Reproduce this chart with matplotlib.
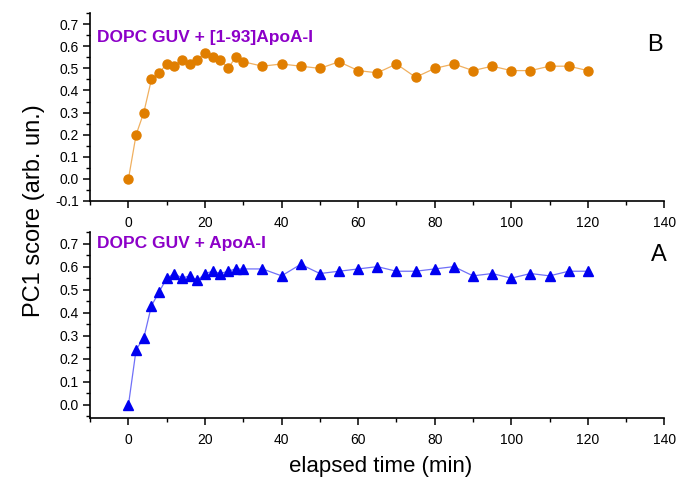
import matplotlib
matplotlib.use("Agg")
import matplotlib.pyplot as plt
from matplotlib.ticker import MultipleLocator

plt.rcParams["font.family"] = ["Liberation Sans", "DejaVu Sans"]

# panel B: DOPC GUV + [1-93]ApoA-I
time_b = [0, 2, 4, 6, 8, 10, 12, 14, 16, 18, 20, 22, 24, 26, 28, 30,
          35, 40, 45, 50, 55, 60, 65, 70, 75, 80, 85, 90, 95, 100, 105, 110, 115, 120]
pc1_b = [0.00, 0.20, 0.30, 0.45, 0.48, 0.52, 0.51, 0.54, 0.52, 0.54, 0.57, 0.55, 0.54, 0.50, 0.55, 0.53,
         0.51, 0.52, 0.51, 0.50, 0.53, 0.49, 0.48, 0.52, 0.46, 0.50, 0.52, 0.49, 0.51, 0.49, 0.49, 0.51, 0.51, 0.49]

# panel A: DOPC GUV + ApoA-I
time_a = [0, 2, 4, 6, 8, 10, 12, 14, 16, 18, 20, 22, 24, 26, 28, 30,
          35, 40, 45, 50, 55, 60, 65, 70, 75, 80, 85, 90, 95, 100, 105, 110, 115, 120]
pc1_a = [0.00, 0.24, 0.29, 0.43, 0.49, 0.55, 0.57, 0.55, 0.56, 0.54, 0.57, 0.58, 0.57, 0.58, 0.59, 0.59,
         0.59, 0.56, 0.61, 0.57, 0.58, 0.59, 0.60, 0.58, 0.58, 0.59, 0.60, 0.56, 0.57, 0.55, 0.57, 0.56, 0.58, 0.58]

purple = "#8C00C8"
orange = "#E07E00"
blue = "#0000F0"

fig = plt.figure(figsize=(6.78, 4.78), dpi=100)
ax_b = fig.add_axes([0.133, 0.5795, 0.847, 0.393])
ax_a = fig.add_axes([0.133, 0.1255, 0.847, 0.389])

ax_b.plot(time_b, pc1_b, color="#F0B060", lw=0.9, zorder=1)
ax_b.plot(time_b, pc1_b, "o", color=orange, ms=6.5, mec=orange, zorder=2)
ax_a.plot(time_a, pc1_a, color="#7070F8", lw=0.9, zorder=1)
ax_a.plot(time_a, pc1_a, "^", color=blue, ms=7.5, mec=blue, zorder=2)

ax_b.set_ylim(-0.1, 0.75)
ax_a.set_ylim(-0.057, 0.75)

for ax in (ax_b, ax_a):
    ax.set_xlim(-10, 140)
    ax.xaxis.set_major_locator(MultipleLocator(20))
    ax.xaxis.set_minor_locator(MultipleLocator(10))
    ax.yaxis.set_minor_locator(MultipleLocator(0.05))
    ax.set_yticks([t / 10 for t in range(-1 if ax is ax_b else 0, 8)])
    ax.yaxis.set_major_formatter(plt.FuncFormatter(lambda v, p: f"{v:.1f}".replace("-0.0", "0.0")))
    ax.spines["top"].set_visible(False)
    ax.spines["right"].set_visible(False)
    ax.spines["left"].set_linewidth(1.2)
    ax.spines["bottom"].set_linewidth(1.2)
    ax.tick_params(which="major", direction="out", length=5, width=1.1, labelsize=10, pad=3)
    ax.tick_params(axis="x", which="major", pad=6)
    ax.tick_params(which="minor", direction="out", length=3, width=1.0)

ax_b.text(0.012, 0.868, "DOPC GUV + [1-93]ApoA-I", transform=ax_b.transAxes,
          color=purple, fontsize=12.5, fontweight="bold", va="center", ha="left")
ax_a.text(0.012, 0.94, "DOPC GUV + ApoA-I", transform=ax_a.transAxes,
          color=purple, fontsize=12.5, fontweight="bold", va="center", ha="left")
ax_b.text(0.983, 0.83, "B", transform=ax_b.transAxes, fontsize=17, ha="center", va="center")
ax_a.text(0.99, 0.876, "A", transform=ax_a.transAxes, fontsize=17, ha="center", va="center")

fig.text(0.05, 0.56, "PC1 score (arb. un.)", rotation=90, fontsize=17, ha="center", va="center")
fig.text(0.562, 0.025, "elapsed time (min)", fontsize=16, ha="center", va="center")

fig.savefig("out.png", dpi=100)
